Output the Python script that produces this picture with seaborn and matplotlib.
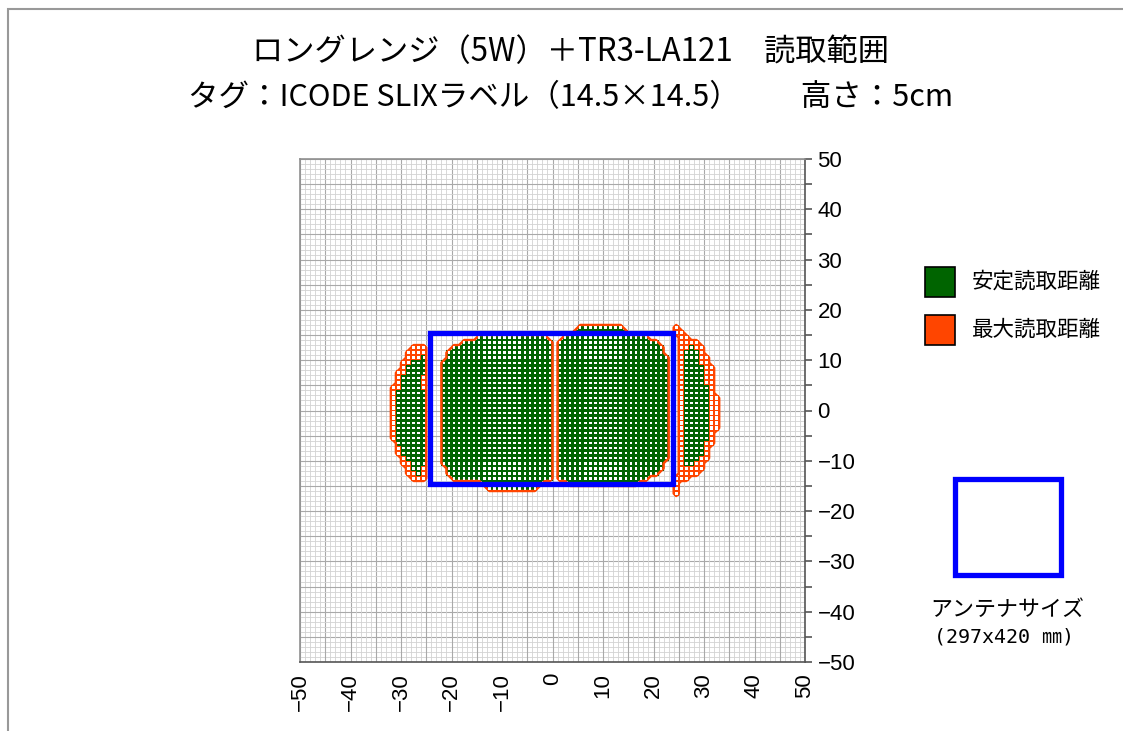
import numpy as np
import pandas as pd
import matplotlib
matplotlib.use("Agg")
import matplotlib.pyplot as plt
from matplotlib.patches import Rectangle
from matplotlib.collections import PolyCollection
from matplotlib.colors import ListedColormap
import seaborn as sns

# read range map, 1 cm cells, rows given as (y_top, y_bottom, x_left, x_right)
max_left_lobe = [(12, 12, -28, -26), (11, 10, -29, -26), (9, 8, -30, -26), (7, 5, -31, -26),
                 (4, -6, -32, -26), (-7, -9, -31, -26), (-10, -11, -30, -26),
                 (-12, -13, -29, -26), (-14, -14, -28, -26)]
stable_left_lobe = [(10, 10, -26, -26), (9, 9, -28, -26), (8, 7, -29, -26), (6, 4, -30, -27),
                    (3, -7, -31, -26), (-8, -9, -30, -26), (-10, -10, -29, -26),
                    (-11, -11, -28, -26), (-12, -12, -28, -27), (-13, -13, -27, -27)]
stable_center_left = [(14, 14, -15, -2), (13, 13, -18, -1), (12, 12, -20, -1), (11, 10, -21, -1),
                      (9, -11, -22, -1), (-12, -13, -21, -1), (-14, -14, -20, -1),
                      (-15, -15, -14, -3), (-16, -16, -13, -4)]
stable_center_right = [(16, 16, 5, 13), (15, 15, 4, 14), (14, 14, 2, 18), (13, 13, 1, 20),
                       (12, 11, 1, 21), (10, -10, 1, 22), (-11, -12, 1, 21), (-13, -13, 1, 20),
                       (-14, -14, 1, 18), (-15, -15, 3, 16)]
max_right_lobe = [(16, 16, 24, 24), (15, 15, 24, 25), (14, 14, 25, 26), (13, 13, 25, 28),
                  (12, 11, 25, 29), (10, 9, 25, 30), (8, 3, 25, 31), (2, -4, 25, 32),
                  (-5, -7, 25, 31), (-8, -10, 25, 30), (-11, -12, 25, 29), (-13, -13, 25, 28),
                  (-14, -14, 24, 26), (-15, -17, 24, 24)]
stable_right_lobe = [(12, 12, 27, 27), (11, 9, 26, 28), (8, 5, 26, 29), (4, -6, 26, 30),
                     (-7, -9, 26, 29), (-10, -10, 26, 28), (-11, -11, 26, 27)]

antenna_x = [-24.2, 23.8]
antenna_y = [-14.7, 15.5]

title1 = "ロングレンジ（5W）＋TR3-LA121　読取範囲"
title2 = "タグ：ICODE SLIXラベル（14.5×14.5）　　高さ：5cm"
legend_labels = ["安定読取距離", "最大読取距離"]
antenna_label = "アンテナサイズ"
antenna_size = "(297x420 ㎜)"

green = "#006400"
orange = "#ff4500"
blue = "#0000ff"

grid = np.zeros((100, 100))


def fill(bands, value):
    for top, bottom, x0, x1 in bands:
        for y in range(bottom, top + 1):
            grid[y + 50, x0 + 50:x1 + 51] = value


fill(max_left_lobe, 1)
fill(stable_center_left, 1)
fill(stable_center_right, 1)
fill(max_right_lobe, 1)
maxmask = (grid > 0).astype(float)
fill(stable_left_lobe, 2)
fill(stable_center_left, 2)
fill(stable_center_right, 2)
fill(stable_right_lobe, 2)

sns.set_style("white")
plt.rcParams['font.family'] = ['Liberation Sans', 'Noto Sans CJK JP', 'DejaVu Sans']
plt.rcParams['text.color'] = 'black'
plt.rcParams['xtick.color'] = 'black'
plt.rcParams['ytick.color'] = 'black'

fig = plt.figure(figsize=(11.23, 7.31), dpi=100)
ax = fig.add_axes([300 / 1123, 1 - 662 / 731, 505 / 1123, 503 / 731])

# background grid
lines = np.arange(-50, 51)
for v in lines:
    c = '#a9a9a9' if v % 5 == 0 else '#d2d2d2'
    lw = 0.8 if v % 5 == 0 else 0.6
    ax.axvline(v, color=c, lw=lw, zorder=0)
    ax.axhline(v, color=c, lw=lw, zorder=0)

edges = np.arange(-50, 51)
centers = np.arange(-50, 50) + 0.5
Z = np.ma.masked_where(grid == 0, grid)
ax.pcolormesh(edges, edges, Z, cmap=ListedColormap([orange, green]), vmin=0.5, vmax=2.5,
              shading='flat', zorder=2, antialiased=False)
ax.contour(centers, centers, maxmask, levels=[0.5], colors=orange, linewidths=1.8, zorder=3)

yy, xx = np.nonzero(grid)
cells = pd.DataFrame({'x': xx - 50 + 0.5, 'y': yy - 50 + 0.5, 'v': grid[yy, xx]})

# white hole in the middle of every cell
for v, half in [(2, 0.24), (1, 0.32)]:
    sub = cells[cells.v == v]
    polys = [[(x - half, y - half), (x + half, y - half), (x + half, y + half), (x - half, y + half)]
             for x, y in zip(sub.x, sub.y)]
    ax.add_collection(PolyCollection(polys, facecolors='white', edgecolors='none',
                                     antialiased=True, zorder=4))

ax.add_patch(Rectangle((antenna_x[0], antenna_y[0]), antenna_x[1] - antenna_x[0],
                       antenna_y[1] - antenna_y[0], fill=False, edgecolor=blue, lw=3.8, zorder=5))

ax.set_xlim(-50, 50)
ax.set_ylim(-50, 50)
ax.set_xlabel('')
ax.set_ylabel('')
ax.yaxis.tick_right()
ax.set_xticks(np.arange(-50, 51, 10))
ax.set_xticks(np.arange(-45, 50, 10), minor=True)
ax.set_yticks(np.arange(-50, 51, 10))
ax.set_yticks(np.arange(-45, 50, 10), minor=True)
ax.tick_params(axis='x', which='both', direction='out', length=5, width=1.2, color='#555555',
               labelsize=16, labelrotation=90, pad=3)
ax.tick_params(axis='y', which='both', direction='out', length=5, width=1.2, color='#555555',
               labelsize=16, pad=4, right=True, left=False)
for s in ax.spines.values():
    s.set_color('#909090')
    s.set_linewidth(1.2)
ax.spines['right'].set_color('#555555')
ax.spines['bottom'].set_color('#555555')

# titles
cjk = ['Noto Sans CJK JP', 'DejaVu Sans']
fig.text(0.508, 1 - 52 / 731, title1, ha='center', va='center', fontsize=22.5, family=cjk)
fig.text(0.508, 1 - 98 / 731, title2, ha='center', va='center', fontsize=22, family=cjk)

# legend
for i, (lab, col) in enumerate(zip(legend_labels, [green, orange])):
    ytop = 267 + i * 48
    fig.add_artist(Rectangle((925 / 1123, 1 - (ytop + 30) / 731), 30 / 1123, 30 / 731,
                             transform=fig.transFigure, facecolor=col, edgecolor='black', lw=1.2))
    fig.text(972 / 1123, 1 - (ytop + 15) / 731, lab, ha='left', va='center', fontsize=15.5,
             family=cjk)

fig.add_artist(Rectangle((955 / 1123, 1 - 575 / 731), 106 / 1123, 96 / 731,
                         transform=fig.transFigure, fill=False, edgecolor=blue, lw=3.8))
fig.text(1007 / 1123, 1 - 610 / 731, antenna_label, ha='center', va='center', fontsize=15.8,
         family=cjk)
fig.text(1004 / 1123, 1 - 637 / 731, antenna_size, ha='center', va='center', fontsize=14.4,
         family=['DejaVu Sans Mono', 'Noto Sans CJK JP'])

# outer frame
fig.add_artist(Rectangle((8 / 1123, -0.05), 1.2, 1 - 9 / 731 + 0.05, transform=fig.transFigure,
                         fill=False, edgecolor='#999999', lw=1.5))

fig.savefig('out.png', dpi=100)
